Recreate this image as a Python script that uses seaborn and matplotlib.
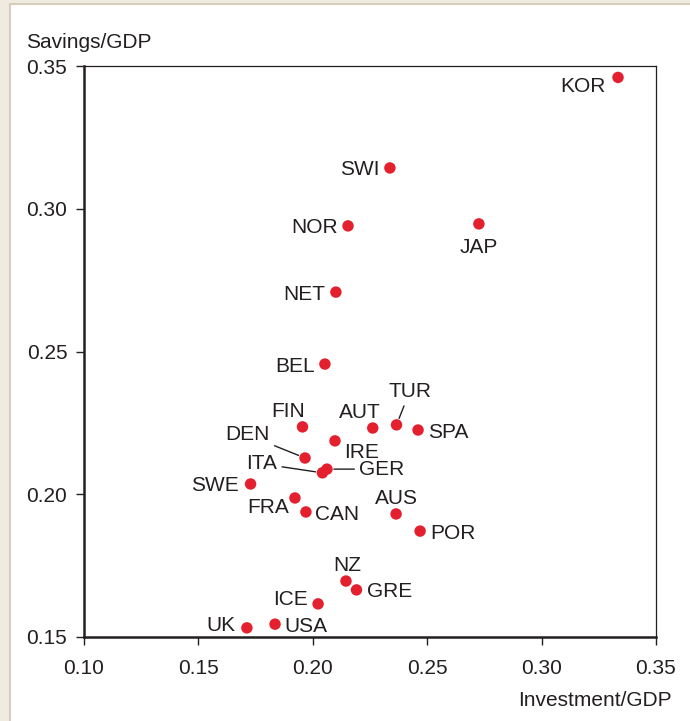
import matplotlib
matplotlib.use("Agg")
import matplotlib.pyplot as plt
from matplotlib.patches import Rectangle
import seaborn as sns
import pandas as pd

# ── Data ──────────────────────────────────────────────────────
countries = ["KOR", "SWI", "NOR", "JAP", "NET", "BEL", "FIN", "AUT", "TUR",
             "SPA", "IRE", "DEN", "ITA", "GER", "SWE", "FRA", "CAN", "AUS",
             "POR", "NZ", "GRE", "ICE", "USA", "UK"]
investment = [0.3334, 0.2337, 0.2154, 0.2726, 0.2101, 0.2053, 0.1955, 0.2262, 0.2366,
              0.2460, 0.2097, 0.1966, 0.2042, 0.2062, 0.1728, 0.1922, 0.1970, 0.2364,
              0.2469, 0.2145, 0.2191, 0.2023, 0.1835, 0.1712]
savings = [0.3460, 0.3143, 0.2940, 0.2947, 0.2708, 0.2456, 0.2236, 0.2232, 0.2243,
           0.2225, 0.2187, 0.2127, 0.2075, 0.2088, 0.2036, 0.1987, 0.1938, 0.1931,
           0.1871, 0.1696, 0.1665, 0.1616, 0.1545, 0.1532]

x_ticks = [0.10, 0.15, 0.20, 0.25, 0.30, 0.35]
y_ticks = [0.15, 0.20, 0.25, 0.30, 0.35]

# label placement (offset in pixels, alignment, leader line)
label_pos = {
    "KOR": (-12, -7, "right", False), "SWI": (-10, 0, "right", False),
    "NOR": (-10, 0, "right", False), "JAP": (0, -22, "center", False),
    "NET": (-11, 0, "right", False), "BEL": (-10, 0, "right", False),
    "FIN": (-14, 17, "center", False), "AUT": (-13, 18, "center", False),
    "TUR": (13, 35, "center", True), "SPA": (10, 0, "left", False),
    "IRE": (9, -10, "left", False), "DEN": (-35, 25, "right", True),
    "ITA": (-45, 11, "right", True), "GER": (32, 2, "left", True),
    "SWE": (-12, 0, "right", False), "FRA": (-6, -8, "right", False),
    "CAN": (9, -1, "left", False), "AUS": (0, 17, "center", False),
    "POR": (10, 0, "left", False), "NZ": (1, 18, "center", False),
    "GRE": (10, 0, "left", False), "ICE": (-10, 6, "right", False),
    "USA": (9, 0, "left", False), "UK": (-11, 4, "right", False),
}

df = pd.DataFrame({"country": countries, "inv": investment, "sav": savings})

sns.set_style("white")
plt.rcParams["font.family"] = ["Liberation Sans", "DejaVu Sans"]
ink = "#231f20"
fs = 15

fig = plt.figure(figsize=(6.9, 7.21), dpi=100)
fig.patch.set_facecolor("#f0ebe0")
fig.patches.append(Rectangle((10 / 690, -0.01), 1, 1.01 - 4 / 721, transform=fig.transFigure,
                             facecolor="white", edgecolor="#d6cdbb", lw=1.5, zorder=-10))

ax = fig.add_axes([84 / 690, 84 / 721, 572 / 690, 571 / 721])
ax.set_facecolor("white")

sns.scatterplot(data=df, x="inv", y="sav", ax=ax, color="#e5202e", s=68,
                edgecolor="none", zorder=3, clip_on=False)

for c, xv, yv in zip(countries, investment, savings):
    dx, dy, ha, line = label_pos[c]
    # -2 px: va="center" sits the caps a little high
    ax.annotate(c, (xv, yv), xytext=(dx, dy - 2), textcoords="offset pixels",
                ha=ha, va="center", fontsize=fs, color=ink,
                arrowprops=dict(arrowstyle="-", color=ink, lw=1,
                                shrinkA=1, shrinkB=5) if line else None)

ax.set_xlim(0.10, 0.35)
ax.set_ylim(0.15, 0.35)
ax.set_xticks(x_ticks)
ax.set_yticks(y_ticks)
ax.set_xticklabels([f"{t:.2f}" for t in x_ticks])
ax.set_yticklabels([f"{t:.2f}" for t in y_ticks])
ax.tick_params(axis="both", direction="out", length=6, width=1, color=ink,
               labelsize=fs, labelcolor=ink)
ax.tick_params(axis="x", pad=10)
ax.tick_params(axis="y", pad=6)
ax.tick_params(left=True, bottom=True)

for side in ["left", "bottom"]:
    ax.spines[side].set_linewidth(1.8)
    ax.spines[side].set_color(ink)
for side in ["top", "right"]:
    ax.spines[side].set_visible(True)
    ax.spines[side].set_linewidth(0.9)
    ax.spines[side].set_color(ink)

ax.set_xlabel("")
ax.set_ylabel("")
fig.text(26 / 690, 1 - 42 / 721, "Savings/GDP", fontsize=fs, color=ink,
         ha="left", va="center")
fig.text(672 / 690, 1 - 700 / 721, "Investment/GDP", fontsize=fs, color=ink,
         ha="right", va="center")

fig.savefig("out.png", dpi=100, facecolor=fig.get_facecolor())
